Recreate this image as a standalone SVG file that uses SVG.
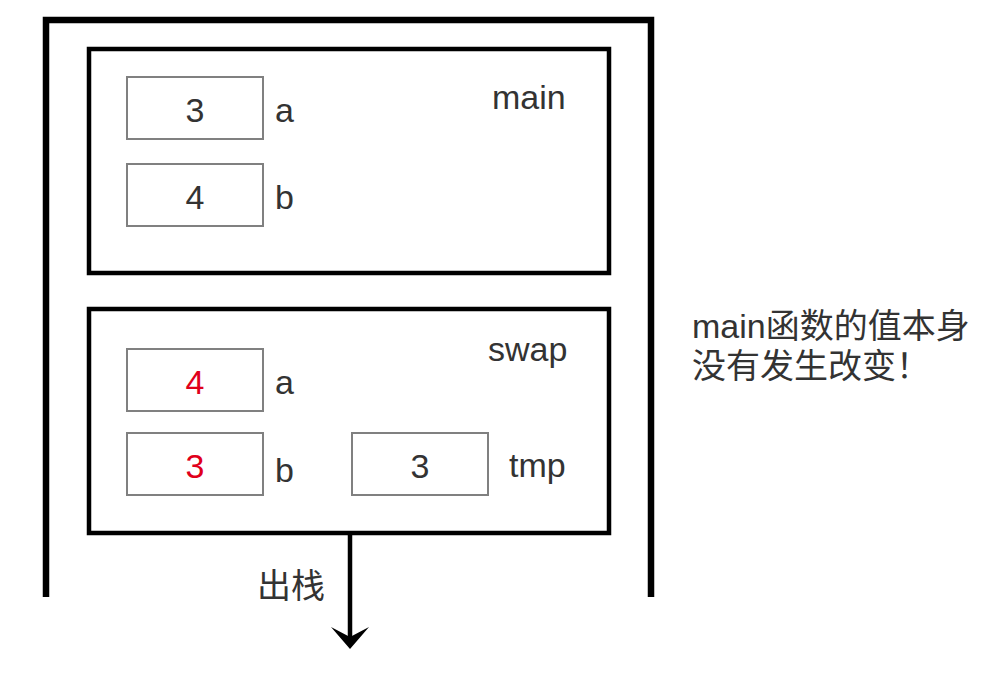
<svg xmlns="http://www.w3.org/2000/svg" width="986" height="700" viewBox="0 0 986 700">
<style>
.t{font-family:"Liberation Sans","Noto Sans CJK SC",Arial,sans-serif;font-size:34px;fill:#333333}
.c{text-anchor:middle}
.red{fill:#e0001b}
.frame{fill:none;stroke:#000;stroke-width:4.5}
.cell{fill:#fff;stroke:#808080;stroke-width:2}
</style>
<defs>
<marker id="ah" markerUnits="userSpaceOnUse" markerWidth="40" markerHeight="40" refX="19" refY="20" orient="auto" viewBox="0 0 40 40">
<path d="M31 20 L9 1 L19 20 L9 39 Z" fill="#000"/>
</marker>
</defs>
<g id="stack">
<path d="M46 597 V20 H651 V597" fill="none" stroke="#000" stroke-width="6.5"/>
</g>
<g id="main-frame">
<rect class="frame" x="89" y="49" width="520" height="224"/>
<text class="t" x="492" y="109">main</text>
</g>
<g id="main-a">
<rect class="cell" x="127" y="77" width="136" height="62"/>
<text class="t c" x="195" y="122">3</text>
<text class="t" x="275" y="122">a</text>
</g>
<g id="main-b">
<rect class="cell" x="127" y="164" width="136" height="62"/>
<text class="t c" x="195" y="209">4</text>
<text class="t" x="275" y="209">b</text>
</g>
<g id="swap-frame">
<rect class="frame" x="89" y="309" width="520" height="224"/>
<text class="t" x="488" y="361">swap</text>
</g>
<g id="swap-a">
<rect class="cell" x="127" y="349" width="136" height="62"/>
<text class="t c red" x="195" y="394">4</text>
<text class="t" x="275" y="394">a</text>
</g>
<g id="swap-b">
<rect class="cell" x="127" y="433" width="136" height="62"/>
<text class="t c red" x="195" y="478">3</text>
<text class="t" x="275" y="482">b</text>
</g>
<g id="swap-tmp">
<rect class="cell" x="352" y="433" width="136" height="62"/>
<text class="t c" x="420" y="478">3</text>
<text class="t" x="509" y="477">tmp</text>
</g>
<g id="connectors">
<line x1="350" y1="535" x2="350" y2="637" stroke="#000" stroke-width="4.5" marker-end="url(#ah)"/>
<text class="t" x="257" y="598">出栈</text>
</g>
<g id="note">
<text class="t" x="692" y="338">main函数的值本身</text>
<text class="t" x="692" y="378">没有发生改变！</text>
</g>
</svg>
